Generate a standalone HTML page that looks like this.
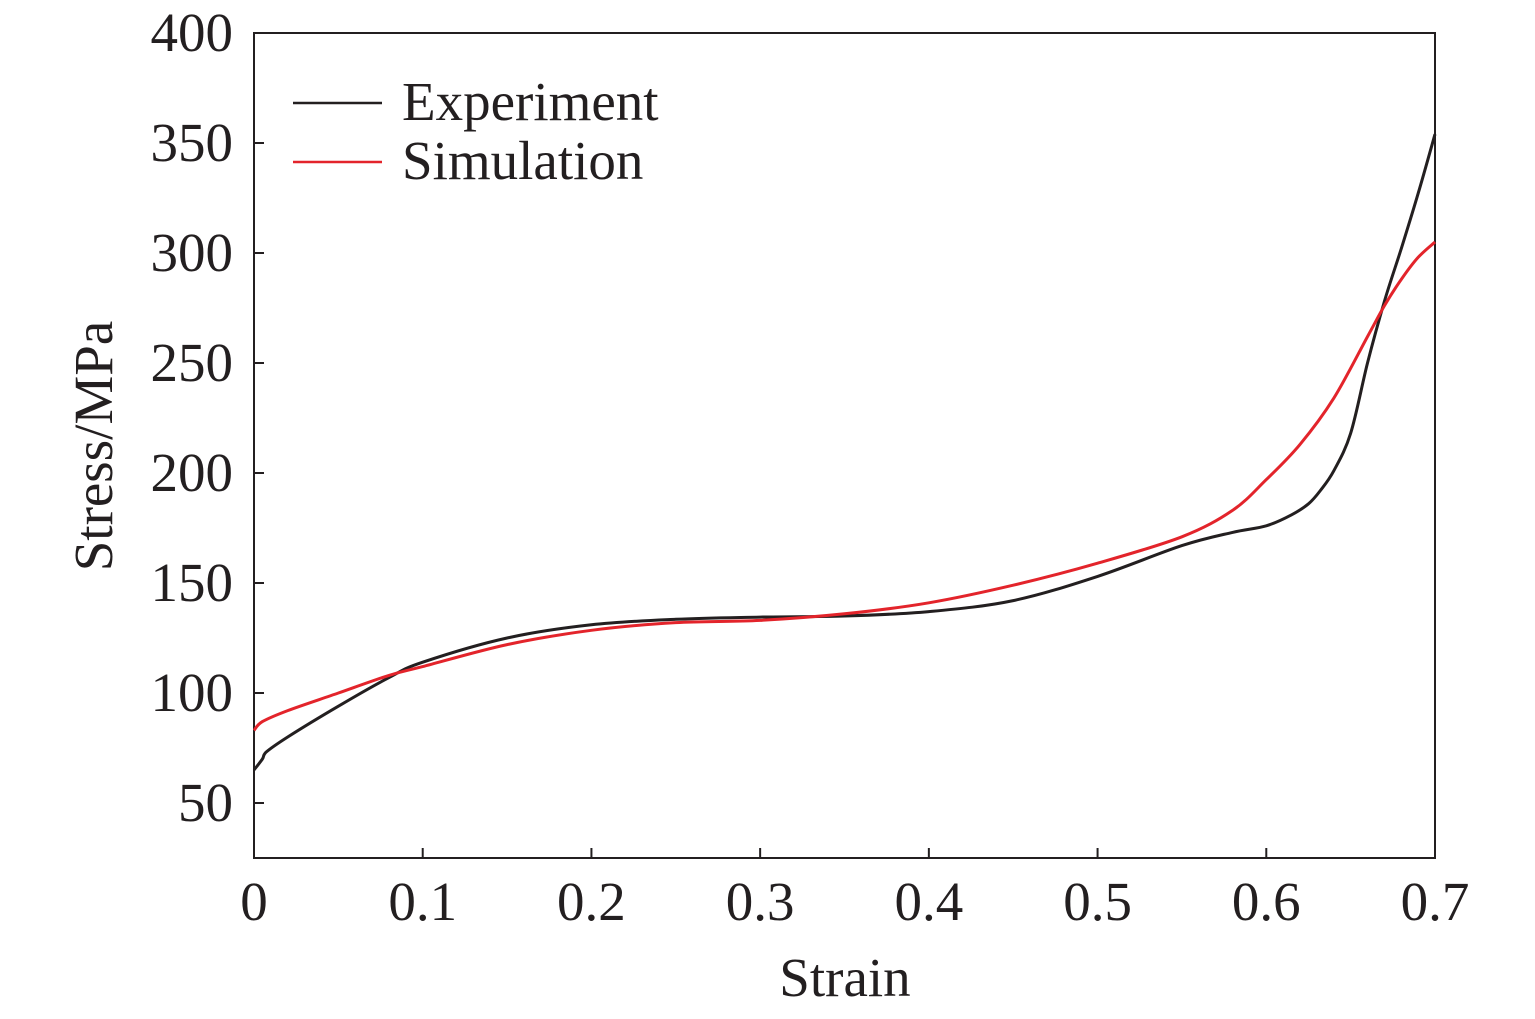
<!DOCTYPE html>
<html><head><meta charset="utf-8"><style>
body{margin:0;background:#fff}
text{font-family:"Liberation Serif",serif;fill:#231f20}
</style></head><body>
<svg id="chart" width="1535" height="1014" xmlns="http://www.w3.org/2000/svg">
<g id="axes"></g><g id="series"></g>
<g>
<line x1="293" y1="103" x2="382" y2="103" stroke="#231f20" stroke-width="2.5"/>
<text x="402" y="120" font-size="55">Experiment</text>
<line x1="293" y1="162" x2="382" y2="162" stroke="#e3242b" stroke-width="2.5"/>
<text x="402" y="179" font-size="55">Simulation</text>
</g>
<text x="845" y="996" font-size="55" text-anchor="middle">Strain</text>
<text transform="translate(112,446) rotate(-90)" font-size="55" text-anchor="middle">Stress/MPa</text>
</svg>
<script>
const xTicks=[0,0.1,0.2,0.3,0.4,0.5,0.6,0.7];
const xTickLabels=["0","0.1","0.2","0.3","0.4","0.5","0.6","0.7"];
const yTicks=[50,100,150,200,250,300,350,400];
const expStrain=[0,0.005,0.007,0.02,0.05,0.08,0.1,0.15,0.2,0.25,0.3,0.35,0.4,0.45,0.5,0.55,0.58,0.6,0.615,0.625,0.632,0.64,0.65,0.66,0.67,0.68,0.69,0.7];
const expStress=[65,70,73,80,94,107,114,125,131,133.5,134.5,135,137,142,153,167,173,176,181,186,192,201,218,250,278,302,327,354];
const simStrain=[0,0.005,0.02,0.05,0.08,0.1,0.15,0.2,0.25,0.3,0.35,0.4,0.45,0.5,0.55,0.58,0.6,0.62,0.64,0.66,0.67,0.68,0.69,0.7];
const simStress=[83,87,92,100,108,112,122,128.5,132,133,136,141,149,159,171,183,197,213,234,262,276,288,298,305];
const L=254,R=1435,T=33,B=858;
const xs=v=>L+v/0.7*(R-L);
const ys=v=>T+(400-v)*2.2;
const NS="http://www.w3.org/2000/svg";
const ax=document.getElementById('axes');
function mk(tag,attrs,parent){const e=document.createElementNS(NS,tag);for(const k in attrs)e.setAttribute(k,attrs[k]);parent.appendChild(e);return e;}
const frame=mk('rect',{x:L,y:T,width:R-L,height:B-T,fill:'none',stroke:'#231f20','stroke-width':2},ax);


xTicks.forEach((v,i)=>{
 const t=mk('line',{x1:xs(v),x2:xs(v),y1:B,y2:B-10,stroke:'#231f20','stroke-width':2},ax);
 
 
 const l=mk('text',{x:xs(v),y:920,'font-size':55,'text-anchor':'middle'},ax);l.textContent=xTickLabels[i];
 
 
});
yTicks.forEach(v=>{
 const t=mk('line',{x1:L,x2:L+10,y1:ys(v),y2:ys(v),stroke:'#231f20','stroke-width':2},ax);
 
 
 const l=mk('text',{x:233,y:ys(v)+18,'font-size':55,'text-anchor':'end'},ax);l.textContent=v;
 
 
});
const sg=document.getElementById('series');
function line(xa,ya,col,name){
 const P=xa.map((x,i)=>[xs(x),ys(ya[i])]);
 let d='M'+P[0][0].toFixed(1)+','+P[0][1].toFixed(1);
 for(let i=0;i<P.length-1;i++){
  const p0=P[Math.max(0,i-1)],p1=P[i],p2=P[i+1],p3=P[Math.min(P.length-1,i+2)];
  const c1=[p1[0]+(p2[0]-p0[0])/6,p1[1]+(p2[1]-p0[1])/6];
  const c2=[p2[0]-(p3[0]-p1[0])/6,p2[1]-(p3[1]-p1[1])/6];
  c1[0]=Math.min(Math.max(c1[0],p1[0]),p2[0]);c2[0]=Math.min(Math.max(c2[0],p1[0]),p2[0]);
  d+='C'+c1.map(n=>n.toFixed(1))+' '+c2.map(n=>n.toFixed(1))+' '+p2.map(n=>n.toFixed(1));
 }
 const p=mk('path',{d:d,fill:'none',stroke:col,'stroke-width':3,'stroke-linejoin':'round'},sg);
 
 
}
line(expStrain,expStress,'#231f20','experiment-line');
line(simStrain,simStress,'#e3242b','simulation-line');
</script>
</body></html>
